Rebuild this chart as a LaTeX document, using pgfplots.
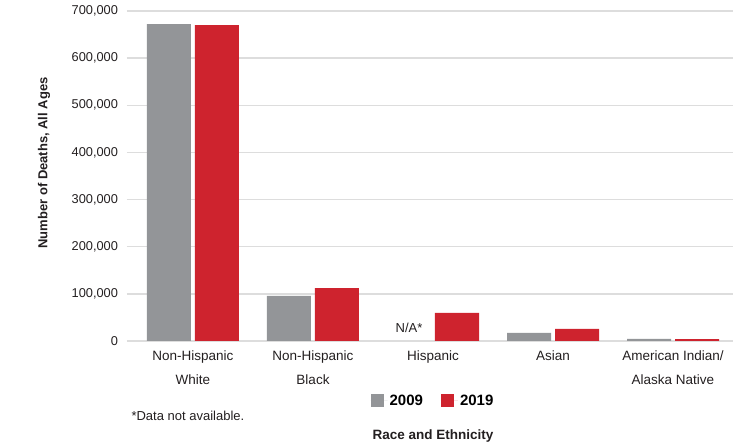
\documentclass[border=0pt]{standalone}
\usepackage{fontspec}
\setmainfont{Liberation Sans}
\usepackage{pgfplots}
\pgfplotsset{compat=1.18}

\definecolor{bargray}{RGB}{147,149,152}
\definecolor{barred}{RGB}{206,35,46}
\definecolor{gridgray}{RGB}{221,221,221}
\definecolor{txt}{RGB}{35,31,32}

\begin{document}
\begin{tikzpicture}
\begin{axis}[
    at={(0pt,0pt)}, anchor=south west,
    scale only axis,
    width=606pt, height=330pt,
    xmin=-0.55, xmax=4.5,
    ymin=0, ymax=700000,
    ybar=4pt, bar width=44pt,
    axis x line*=bottom,
    axis y line*=left,
    x axis line style={gridgray, line width=1.6pt, -},
    y axis line style={draw=none},
    ymajorgrids=true,
    grid style={gridgray, line width=1.3pt},
    ytick={0,100000,...,700000},
    ytick style={draw=none},
    yticklabel style={font=\fontsize{12.8}{15}\selectfont, text=txt, xshift=-5.5pt},
    scaled y ticks=false,
    /pgf/number format/.cd, fixed, 1000 sep={,}, assume math mode=true,
    /pgfplots/.cd,
    xtick={0,1,2,3,4},
    xticklabels={Non-Hispanic\\White, Non-Hispanic\\Black, Hispanic, Asian, American Indian/\\Alaska Native},
    xticklabel style={align=center, font=\fontsize{13.5}{24}\selectfont, text=txt, yshift=-2pt},
    major x tick style={draw=none},
    extra x ticks={-0.55,0.5,1.5,2.5,3.5,4.5},
    extra x tick labels={},
    extra x tick style={grid=none, tick align=inside, major tick length=9pt,
        major tick style={draw=gridgray, line width=1.3pt}},
    legend style={draw=none, at={(306pt,-60pt)}, anchor=center,
        legend columns=2, font=\fontsize{15}{17}\selectfont\bfseries,
        /tikz/every even column/.append style={column sep=16pt}},
    legend image code/.code={\fill[#1] (0pt,-6.5pt) rectangle (13pt,6.5pt); \path (0pt,0pt) -- (17pt,0pt);},
]
\addplot[fill=bargray, draw=none] coordinates {(0,672000) (1,95500) (3,17000) (4,4300)};
\addlegendentry{2009}
\addplot[fill=barred, draw=none] coordinates {(0,670000) (1,112400) (2,59400) (3,25500) (4,4200)};
\addlegendentry{2019}
\node[anchor=south, font=\fontsize{13}{15}\selectfont, text=txt] at (axis cs:1.8,0) [yshift=5pt] {N/A*};
\end{axis}
\node[rotate=90, font=\fontsize{13}{15}\selectfont\bfseries, text=txt] at (-83pt,178pt) {Number of Deaths, All Ages};
\node[anchor=west, font=\fontsize{13}{15}\selectfont, text=txt] at (1pt,-75pt) {*Data not available.};
\node[font=\fontsize{13.5}{16}\selectfont\bfseries, text=txt] at (306pt,-95pt) {Race and Ethnicity};
\pgfresetboundingbox
\path (-127pt,-106pt) rectangle (613pt,341pt);
\end{tikzpicture}
\end{document}
